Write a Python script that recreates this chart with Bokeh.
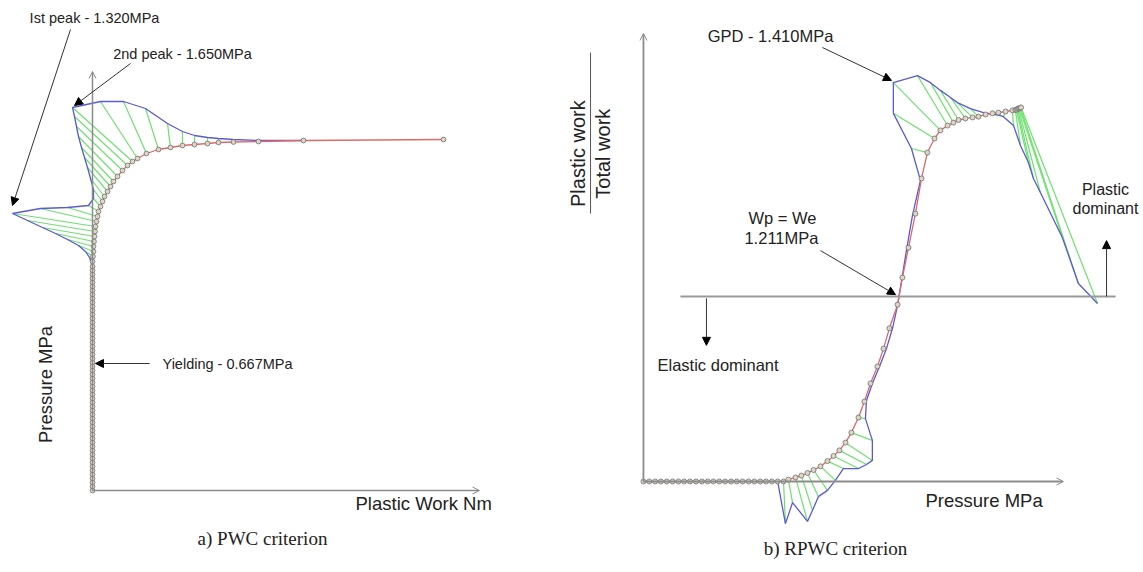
import math
from bokeh.plotting import figure
from bokeh.layouts import row
from bokeh.models import Arrow, NormalHead, OpenHead, Label, Range1d
from bokeh.embed import file_html
from bokeh.resources import INLINE

# ---------------- data: a) PWC criterion (pressure MPa vs plastic work) ----------------
left_p_elastic = [0.00, 0.02, 0.04, 0.06, 0.08, 0.10, 0.12, 0.14, 0.16, 0.18,
                  0.20, 0.22, 0.24, 0.26, 0.28, 0.30, 0.32, 0.34, 0.36, 0.38,
                  0.40, 0.42, 0.44, 0.46, 0.48, 0.50, 0.52, 0.54, 0.56, 0.58,
                  0.60, 0.62, 0.64, 0.66, 0.68, 0.70, 0.72, 0.74, 0.76, 0.78,
                  0.80, 0.82, 0.84, 0.86, 0.88, 0.90, 0.92, 0.94, 0.96, 0.98,
                  1.00, 1.02, 1.04, 1.06, 1.08, 1.10]
left_w_elastic = [0.0] * len(left_p_elastic)

left_w_curve = [0.0, 0.0, 0.005, 0.01, 0.01, 0.015, 0.02, 0.025, 0.03, 0.04,
                0.05, 0.06, 0.08, 0.10, 0.12, 0.15, 0.18, 0.21, 0.25, 0.30,
                0.35, 0.40, 0.45, 0.54, 0.66, 0.78, 0.90, 1.02, 1.15, 1.26,
                1.41, 1.66, 2.11, 3.51]
left_p_curve = [1.12, 1.145, 1.17, 1.195, 1.22, 1.245, 1.27, 1.295, 1.32, 1.345,
                1.37, 1.395, 1.42, 1.445, 1.47, 1.495, 1.52, 1.545, 1.57, 1.60,
                1.625, 1.645, 1.66, 1.685, 1.705, 1.715, 1.725, 1.73, 1.735, 1.74,
                1.7425, 1.745, 1.75, 1.755]
# curvature envelope (one point per curve point)
left_w_env = [0.0, -0.03, -0.07, -0.14, -0.25, -0.37, -0.50, -0.65, -0.80, -0.52,
              -0.25, -0.04, 0.01, 0.01, -0.02, -0.05, -0.08, -0.11, -0.14, -0.16,
              -0.18, -0.20, 0.08, 0.31, 0.53, 0.75, 0.90, 1.02, 1.15, 1.26,
              1.41, 1.66, 2.11]
left_p_env = [1.12, 1.165, 1.195, 1.225, 1.255, 1.285, 1.315, 1.35, 1.385, 1.41,
              1.415, 1.425, 1.46, 1.505, 1.56, 1.615, 1.665, 1.715, 1.77, 1.82,
              1.87, 1.915, 1.945, 1.945, 1.91, 1.835, 1.795, 1.775, 1.765, 1.76,
              1.755, 1.75, 1.75]
yield_p = 0.635
peak1_p = 1.425
peak2_p = 1.925

# ---------------- data: b) RPWC criterion (plastic/total work vs pressure) ----------------
right_x_row = [0.000, 0.028, 0.056, 0.083, 0.111, 0.139, 0.167, 0.194, 0.222, 0.250,
               0.278, 0.306, 0.333, 0.361, 0.389, 0.417, 0.444, 0.472, 0.500, 0.528,
               0.556, 0.583, 0.611, 0.639, 0.667]
right_y_row = [0.0] * len(right_x_row)
right_x_curve = [0.690, 0.724, 0.752, 0.781, 0.810, 0.843, 0.876, 0.905, 0.933, 0.962,
                 0.990, 1.024, 1.052, 1.081, 1.114, 1.143, 1.171, 1.210, 1.233, 1.262,
                 1.295, 1.324, 1.352, 1.386, 1.414, 1.448, 1.476, 1.500, 1.533, 1.567,
                 1.595, 1.629, 1.662, 1.690, 1.724, 1.757, 1.771, 1.776, 1.781, 1.786,
                 1.790, 1.795, 1.798]
right_y_curve = [0.005, 0.011, 0.016, 0.023, 0.031, 0.041, 0.055, 0.069, 0.084, 0.105,
                 0.132, 0.173, 0.216, 0.265, 0.311, 0.359, 0.414, 0.478, 0.551, 0.632,
                 0.724, 0.819, 0.889, 0.927, 0.949, 0.962, 0.970, 0.977, 0.981, 0.984,
                 0.986, 0.992, 0.995, 0.997, 1.000, 1.003, 1.004, 1.005, 1.007, 1.008,
                 1.009, 1.010, 1.011]
right_x_env = [0.676, 0.710, 0.781, 0.805, 0.833, 0.876, 0.914, 0.952, 1.024, 1.062,
               1.090, 1.090, 1.057, 1.062, 1.090, 1.124, 1.157, 1.186, 1.210, 1.229,
               1.252, 1.281, 1.319, 1.276, 1.190, 1.190, 1.305, 1.367, 1.414, 1.462,
               1.495, 1.557, 1.619, 1.667, 1.700, 1.714, 1.762, 1.795, 1.833, 1.857,
               1.890, 1.995, 2.071, 2.162]
right_y_env = [-0.114, -0.057, -0.108, -0.078, -0.041, -0.024, 0.003, 0.035, 0.035, 0.046,
               0.057, 0.111, 0.170, 0.219, 0.265, 0.311, 0.359, 0.414, 0.476, 0.543,
               0.624, 0.719, 0.814, 0.900, 0.995, 1.078, 1.097, 1.078, 1.057, 1.038,
               1.024, 1.008, 0.997, 0.992, 0.989, 0.986, 0.962, 0.908, 0.862, 0.819,
               0.781, 0.659, 0.535, 0.481]
ratio_equal = 0.5
wp_we_x = 1.2
gpd_x, gpd_y = 1.181, 1.084

RED = "#e06868"
BLUE = "#5a5ad6"
GREEN = "#6fe06f"
AXIS = "#8c8c8c"
MK_LINE = "#707070"
MK_FILL = "#ddd6c4"
TXT = "#222222"
SANS = "Liberation Sans"


def make_fig(w, xr, yr):
    p = figure(width=w, height=572, x_range=Range1d(*xr), y_range=Range1d(*yr),
               x_axis_type=None, y_axis_type=None, toolbar_location=None,
               output_backend="svg", min_border=0, outline_line_color=None,
               background_fill_color="white", border_fill_color="white")
    return p


def label(p, x, y, text, size, align="center", angle=0.0, font=SANS):
    p.add_layout(Label(x=x, y=y, text=text, text_font=font, text_font_size=size,
                       text_color=TXT, text_align=align, text_baseline="middle",
                       angle=angle))


def arrow(p, x0, y0, x1, y1, size=8):
    p.add_layout(Arrow(end=NormalHead(size=size, fill_color="black", line_color="black"),
                       x_start=x0, y_start=y0, x_end=x1, y_end=y1,
                       line_color="#333333", line_width=1))


def axis_arrow(p, x1, y1, width=1.5):
    p.add_layout(Arrow(end=OpenHead(size=7, line_color=AXIS, line_width=1),
                       x_start=0, y_start=0, x_end=x1, y_end=y1,
                       line_color=AXIS, line_width=width))


# ---------------- left panel ----------------
p1 = make_fig(560, (-0.92, 4.68), (-0.41, 2.45))
axis_arrow(p1, 0, 2.095)
axis_arrow(p1, 3.87, 0)

lw = left_w_elastic + left_w_curve
lp = left_p_elastic + left_p_curve
ew = left_w_elastic + left_w_env
ep = left_p_elastic + left_p_env
p1.segment(x0=left_w_curve[:len(left_w_env)], y0=left_p_curve[:len(left_p_env)],
           x1=left_w_env, y1=left_p_env, line_color=GREEN, line_width=1.2)
p1.line(ew, ep, line_color=BLUE, line_width=1.3)
p1.line(lw, lp, line_color=RED, line_width=1.3)
p1.scatter(lw, lp, size=4.8, fill_color=MK_FILL, line_color=MK_LINE, line_width=0.8)

arrow(p1, -0.22, 2.305, -0.80, peak1_p)
arrow(p1, 0.38, 2.135, -0.18, peak2_p)
arrow(p1, 0.57, yield_p, 0.03, yield_p)
label(p1, 0.02, 2.365, "Ist peak - 1.320MPa", "14.5px")
label(p1, 0.90, 2.185, "2nd peak - 1.650MPa", "14.5px")
label(p1, 0.70, yield_p, "Yielding - 0.667MPa", "14.5px", align="left")
label(p1, -0.47, 0.53, "Pressure MPa", "18.5px", angle=math.pi / 2)
label(p1, 2.63, -0.065, "Plastic Work Nm", "18.5px", align="left")
label(p1, 1.70, -0.24, "a) PWC criterion", "19px", font="Liberation Serif")

# ---------------- right panel ----------------
p2 = make_fig(583, (-0.395, 2.381), (-0.246, 1.3))
axis_arrow(p2, 0, 1.211, width=1.8)
axis_arrow(p2, 2.0, 0, width=1.8)
p2.add_layout(Arrow(end=None, x_start=0.176, y_start=ratio_equal, x_end=2.248,
                    y_end=ratio_equal, line_color="#9a9a9a", line_width=2))

rx = right_x_row + right_x_curve
ry = right_y_row + right_y_curve
ex = right_x_row[:-1] + right_x_env
ey = right_y_row[:-1] + right_y_env
p2.segment(x0=rx[len(right_x_row) - 1:], y0=ry[len(right_y_row) - 1:],
           x1=right_x_env, y1=right_y_env, line_color=GREEN, line_width=1.2)
p2.line(ex, ey, line_color=BLUE, line_width=1.3)
p2.line(rx, ry, line_color=RED, line_width=1.3)
p2.scatter(rx, ry, size=5, fill_color=MK_FILL, line_color=MK_LINE, line_width=0.8)

arrow(p2, 0.852, 1.173, gpd_x, gpd_y)
arrow(p2, 0.843, 0.624, wp_we_x, 0.505)
arrow(p2, 0.30, 0.495, 0.30, 0.368)
arrow(p2, 2.205, ratio_equal, 2.205, 0.651)

label(p2, 0.605, 1.203, "GPD - 1.410MPa", "16.5px")
label(p2, 0.662, 0.711, "Wp = We", "16.5px")
label(p2, 0.657, 0.657, "1.211MPa", "16.5px")
label(p2, 0.067, 0.314, "Elastic dominant", "16.5px", align="left")
label(p2, 2.20, 0.789, "Plastic", "16px")
label(p2, 2.20, 0.738, "dominant", "16px")
label(p2, 1.343, -0.051, "Pressure MPa", "18.5px", align="left")
label(p2, -0.314, 0.886, "Plastic work", "20px", angle=math.pi / 2)
label(p2, -0.195, 0.886, "Total work", "20px", angle=math.pi / 2)
p2.add_layout(Arrow(end=None, x_start=-0.252, y_start=1.159, x_end=-0.252, y_end=0.724,
                    line_color="#555555", line_width=1))
label(p2, 0.914, -0.181, "b) RPWC criterion", "19px", font="Liberation Serif")

layout = row(p1, p2)
open("out.html", "w").write(file_html(layout, INLINE))
